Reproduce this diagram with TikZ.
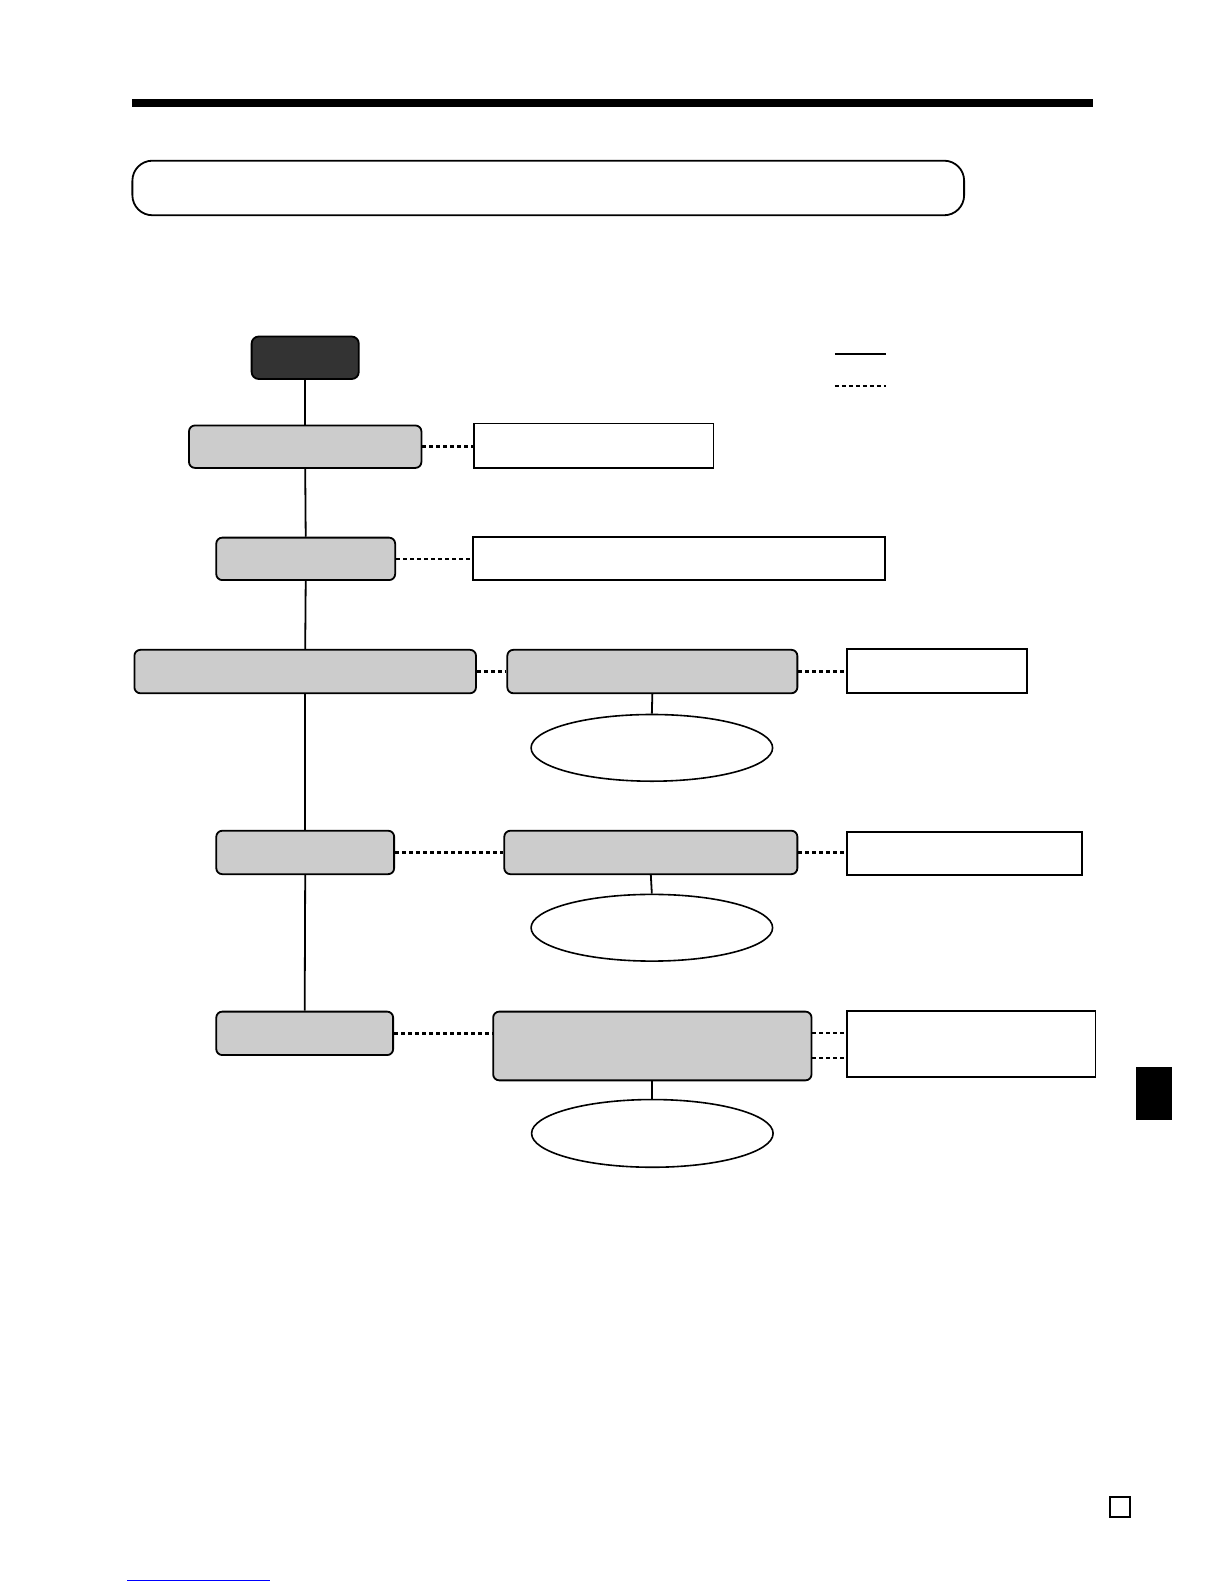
\documentclass[tikz,border=0pt]{standalone}
\usetikzlibrary{shapes.geometric}
\definecolor{boxgray}{HTML}{CCCCCC}
\definecolor{darkbox}{HTML}{333333}
\definecolor{linkblue}{HTML}{0000FF}
\newdimen\pxu
\pxu=1.0106pt
\begin{document}
\begin{tikzpicture}[x=\pxu,y=-\pxu,
  graybox/.style={draw,line width=1.8pt,fill=boxgray,rounded corners=6pt,inner sep=0pt},
  whitebox/.style={draw,line width=1.8pt,fill=white,inner sep=0pt},
  oval/.style={draw,line width=1.6pt,ellipse,fill=white,inner sep=0pt},
  solidln/.style={line width=1.8pt},
  dashln/.style={line width=2.4pt,dash pattern=on 4pt off 3pt}]
\useasboundingbox (0pt,0pt) rectangle (1224pt,-1584pt);
\fill[white] (0pt,0pt) rectangle (1224pt,-1584pt);
% header bar
\fill[black] (131,98) rectangle (1082,106);
% title rounded box
\draw[line width=1.8pt,rounded corners=20pt] (131,159) rectangle (954,213);
% legend
\coordinate (ls1) at (826,350); \coordinate (ls2) at (877,350);
\coordinate (ld1) at (826,382); \coordinate (ld2) at (877,382);
\draw[solidln,line width=2.4pt] (ls1) -- (ls2);
\draw[dashln] (ld1) -- (ld2);
% main column nodes
\node[draw,line width=1.8pt,fill=darkbox,rounded corners=7pt,minimum width=106\pxu,minimum height=42\pxu,inner sep=0pt] (start) at (302,354) {};
\node[graybox,minimum width=230\pxu,minimum height=42\pxu] (a) at (302,442) {};
\node[graybox,minimum width=177\pxu,minimum height=42\pxu] (b) at (302.5,553) {};
\node[graybox,minimum width=338\pxu,minimum height=43\pxu] (c) at (302,664.5) {};
\node[graybox,minimum width=176\pxu,minimum height=43\pxu] (d) at (302,843.5) {};
\node[graybox,minimum width=175\pxu,minimum height=43\pxu] (e) at (301.5,1022.5) {};
% side nodes
\node[whitebox,minimum width=237\pxu,minimum height=44\pxu] (a1) at (587.5,441) {};
\node[whitebox,minimum width=408\pxu,minimum height=43\pxu] (b1) at (672,552.5) {};
\node[graybox,minimum width=287\pxu,minimum height=43\pxu] (c1) at (645.5,664.5) {};
\node[whitebox,minimum width=178\pxu,minimum height=44\pxu] (c2) at (927,664) {};
\node[oval,minimum width=239\pxu,minimum height=66\pxu] (c3) at (645,740) {};
\node[graybox,minimum width=290\pxu,minimum height=43\pxu] (d1) at (644,843.5) {};
\node[whitebox,minimum width=233\pxu,minimum height=43\pxu] (d2) at (954.5,844.5) {};
\node[oval,minimum width=239\pxu,minimum height=66\pxu] (d3) at (645,918) {};
\node[graybox,minimum width=315\pxu,minimum height=68\pxu] (e1) at (645.5,1035) {};
\node[whitebox,minimum width=246\pxu,minimum height=66\pxu] (e2) at (961,1033) {};
\node[oval,minimum width=239\pxu,minimum height=67\pxu] (e3) at (645.5,1121.5) {};
% main vertical connectors
\draw[solidln] (start.south) -- (a.north);
\draw[solidln] (a.south) -- (b.north);
\draw[solidln] (b.south) -- (c.north);
\draw[solidln] (c.south) -- (d.north);
\draw[solidln] (d.south) -- (e.north);
% dashed connectors
\draw[dashln] (a.east) -- (a.east -| a1.west);
\draw[dashln] (b.east) -- (b.east -| b1.west);
\draw[dashln] (c.east) -- (c1.west);
\draw[dashln] (c1.east) -- (c1.east -| c2.west);
\draw[dashln] (d.east) -- (d1.west);
\draw[dashln] (d1.east) -- (d1.east -| d2.west);
\draw[dashln] (e.east) -- (e.east -| e1.west);
\coordinate (e1r1) at (e1.east |- 0,1022);
\coordinate (e1r2) at (e1.east |- 0,1047);
\draw[dashln] (e1r1) -- (e1r1 -| e2.west);
\draw[dashln] (e1r2) -- (e1r2 -| e2.west);
% solid drops to ovals
\draw[solidln] (c1.south) -- (c3.north);
\draw[solidln] (d1.south) -- (d3.north);
\draw[solidln] (e1.south) -- (e3.north);
% side tab
\fill[black] (1124,1056) rectangle (1160,1108);
% page number square
\draw[line width=1.8pt] (1098,1481) rectangle (1118,1501);
% link underline
\coordinate (lk1) at (126,1564); \coordinate (lk2) at (267,1564);
\draw[linkblue,line width=1.6pt] (lk1) -- (lk2);
\end{tikzpicture}
\end{document}
